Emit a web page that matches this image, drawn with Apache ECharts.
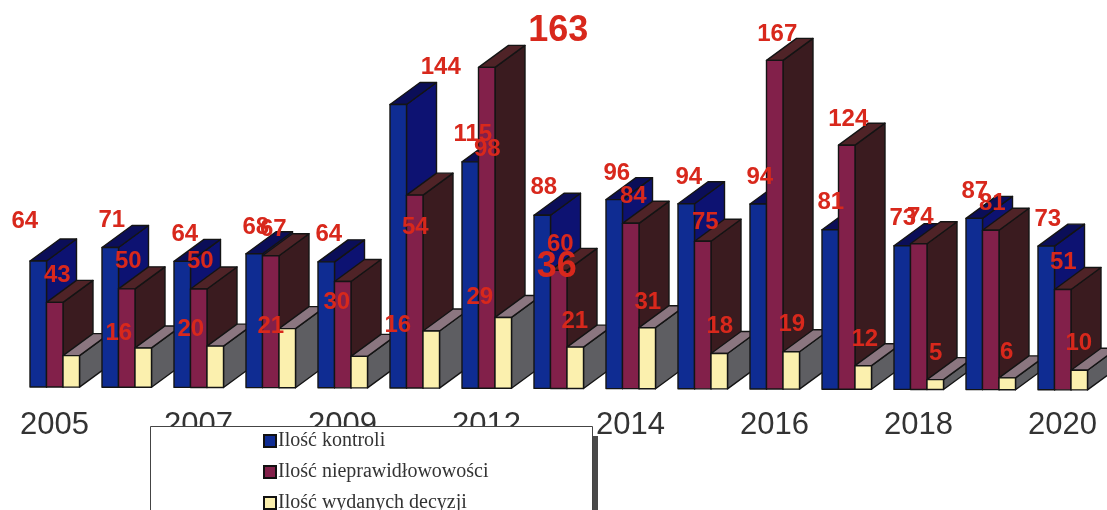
<!DOCTYPE html>
<html>
<head>
<meta charset="utf-8">
<style>html,body{margin:0;padding:0;background:#fff}#c{width:1107px;height:510px}</style>
<script src="https://cdn.jsdelivr.net/npm/echarts@6/dist/echarts.min.js"></script>
</head>
<body>
<div id="c"></div>
<script>
const years = ['2005','2006','2007','2008','2009','2010','2012','2013','2014','2015','2016','2017','2018','2019','2020'];
const kontrole = [64,71,64,68,64,144,115,88,96,94,94,81,73,87,73];
const nieprawidlowosci = [43,50,50,67,54,98,163,60,84,75,167,124,74,81,51];
const decyzje = [16,20,21,30,16,29,36,21,31,18,19,12,5,6,10];

// label displacement from the top-centre of each bar's front face
const nudgeBlue = [[-13.5,-40],[1.5,-27],[2.5,-27],[1.5,-26],[2.5,-27],[42.5,-36],[2.5,-26],[1.5,-26],[2.5,-25],[2.5,-25],[1.5,-25],[0.5,-25],[0.5,-25],[0.5,-24],[1.5,-24]];
const nudgeRed = [[2.5,-27],[1.5,-27],[1.5,-27],[2.5,-26],[72.5,-53],[72.5,-45],[71.5,-35],[1.5,-25],[2.5,-25],[2.5,-17],[2.5,-24],[1.5,-24],[1.5,-24],[1.5,-24],[0.5,-24]];
const nudgeYellow = [[47.5,-22],[47.5,-18],[55.5,-19],[49.5,-26],[38.5,-30],[48.5,-33],[53.5,-49],[-0.5,-24],[0.5,-24],[0.5,-25],[0.5,-25],[1.5,-24],[0.5,-24],[-0.5,-23],[-0.5,-24]];

const BAR_W = 16.5, DX = 30, DY = -22, TILT = 0.0028;
const LABEL = '#d8281c';

function cuboidSeries(name, values, order, pal, nudges, bigIndex) {
  return {
    name: name,
    type: 'custom',
    coordinateSystem: 'cartesian2d',
    clip: false,
    silent: true,
    itemStyle: { color: pal.front, borderColor: '#111', borderWidth: 1.4 },
    encode: { x: 0, y: 1 },
    data: values.map((v, i) => [i, v]),
    renderItem: function (params, api) {
      const i = api.value(0), v = api.value(1);
      const base = api.coord([i, 0]), top = api.coord([i, v]);
      const band = api.size([1, 0])[0];
      const left = base[0] - band / 2 + 11.5 + order * BAR_W;
      const right = left + BAR_W;
      const t = (x) => (x - 30) * TILT;
      const yb = base[1] + t(left), yt = top[1] + t(left);
      const z = i * 10 + order;
      const edge = { stroke: '#141414', lineWidth: 1.4, lineJoin: 'round' };
      const n = nudges[i];
      const big = i === bigIndex;
      return {
        type: 'group',
        children: [
          { type: 'polygon', z2: z,
            shape: { points: [[right, yb], [right + DX, yb + DY], [right + DX, yt + DY], [right, yt]] },
            style: Object.assign({ fill: pal.side }, edge) },
          { type: 'polygon', z2: z,
            shape: { points: [[left, yt], [right, yt], [right + DX, yt + DY], [left + DX, yt + DY]] },
            style: Object.assign({ fill: pal.top }, edge) },
          { type: 'rect', z2: z,
            shape: { x: left, y: yt, width: BAR_W, height: yb - yt },
            style: Object.assign({ fill: pal.front }, edge) },
          { type: 'text', z2: 2000,
            style: {
              text: String(v),
              x: left + BAR_W / 2 + n[0],
              y: top[1] + n[1],
              fill: LABEL,
              font: (big ? 'bold 36px' : 'bold 24px') + ' "Liberation Sans", Arial, sans-serif',
              align: 'center',
              verticalAlign: 'middle'
            } }
        ]
      };
    }
  };
}

const chart = echarts.init(document.getElementById('c'), null, { renderer: 'canvas' });
chart.setOption({
  animation: false,
  backgroundColor: '#ffffff',
  grid: { left: 18.5, width: 1080, top: 13, height: 374 },
  xAxis: {
    type: 'category',
    data: years,
    axisLine: { show: false },
    axisTick: { show: false },
    axisLabel: {
      interval: 1,
      margin: 23,
      fontSize: 31,
      color: '#333333',
      fontFamily: '"Liberation Sans", Arial, sans-serif'
    }
  },
  yAxis: { type: 'value', min: 0, max: 190, show: false },
  legend: {
    orient: 'vertical',
    left: 263,
    top: 431,
    height: 120,
    z: 60,
    itemWidth: 12,
    itemHeight: 12,
    itemGap: 11,
    icon: 'rect',
    selectedMode: false,
    padding: 0,
    textStyle: {
      fontFamily: '"Liberation Serif", "Times New Roman", serif',
      fontSize: 20,
      color: '#333333',
      padding: [0, 0, 0, -3]
    }
  },
  graphic: [
    { type: 'rect', z: 50, shape: { x: 592, y: 436, width: 6, height: 80 }, style: { fill: '#4a4a4a' } },
    { type: 'rect', z: 51, shape: { x: 150.5, y: 426.5, width: 442, height: 90 }, style: { fill: '#ffffff', stroke: '#444444', lineWidth: 1 } }
  ],
  series: [
    cuboidSeries('Ilość kontroli', kontrole, 0, { front: '#0f2c92', side: '#0d1272', top: '#0b0e58' }, nudgeBlue, -1),
    cuboidSeries('Ilość nieprawidłowowości', nieprawidlowosci, 1, { front: '#82204a', side: '#3a1b1f', top: '#4f2327' }, nudgeRed, 6),
    cuboidSeries('Ilość wydanych decyzji', decyzje, 2, { front: '#fbf0ae', side: '#5e5e62', top: '#8b7680' }, nudgeYellow, 6)
  ]
});
</script>
</body>
</html>
